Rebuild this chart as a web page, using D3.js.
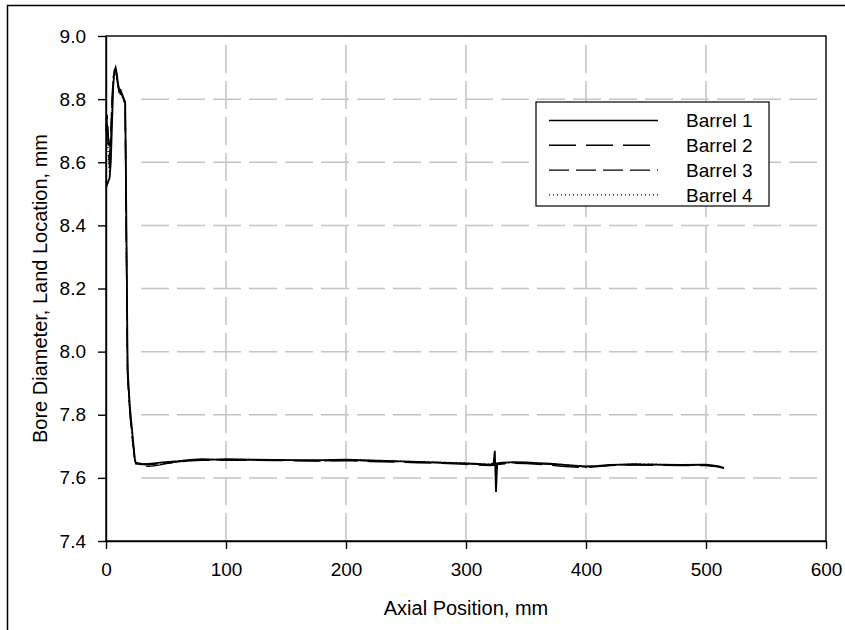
<!DOCTYPE html>
<html>
<head>
<meta charset="utf-8">
<script src="https://cdn.jsdelivr.net/npm/d3@7"></script>
<style>
  html, body { margin: 0; padding: 0; background: #fff; }
  svg { display: block; font-family: "Liberation Sans", Arial, sans-serif; }
</style>
</head>
<body>
<svg id="chart" width="845" height="630"></svg>
<script>
// ---------------- DATA ----------------
const axialPosition = [0,1,2,3,4,5,6,7,8,9,10,11,12,13,14,15,16,17,18,19,20,21,22,23,24,25,
  30,35,40,45,50,60,70,80,90,100,120,140,160,180,200,220,240,260,280,300,
  310,320,323,324,325,326,330,340,350,360,370,380,390,400,410,420,440,460,480,500,510,515];

const barrel1 = [8.54,8.53,8.54,8.55,8.60,8.72,8.84,8.89,8.90,8.88,8.85,8.83,8.83,8.82,8.81,8.80,8.79,8.40,7.95,7.88,7.82,7.78,7.74,7.70,7.66,7.645,
  7.643,7.644,7.646,7.648,7.650,7.653,7.657,7.659,7.658,7.659,
  7.658,7.657,7.656,7.656,7.658,7.655,7.653,7.651,7.648,7.646,
  7.644,7.642,7.646,7.686,7.555,7.646,7.648,
  7.650,7.649,7.647,7.645,7.642,7.639,7.636,7.638,7.641,
  7.643,7.642,7.641,7.642,7.637,7.632];

const barrel2 = [8.74,8.72,8.64,8.58,8.66,8.78,8.86,8.88,8.89,8.87,8.84,8.82,8.82,8.81,8.80,8.79,8.78,8.30,7.92,7.86,7.80,7.76,7.72,7.69,7.655,7.645,
  7.640,7.637,7.638,7.641,7.645,7.650,7.654,7.656,7.656,7.656,
  7.656,7.655,7.654,7.653,7.655,7.652,7.650,7.648,7.646,7.643,
  7.641,7.639,7.640,7.641,7.641,7.642,7.644,
  7.646,7.645,7.643,7.640,7.637,7.634,7.633,7.636,7.639,
  7.641,7.640,7.639,7.639,7.635,7.630];

const barrel3 = [8.70,8.75,8.68,8.62,8.70,8.80,8.87,8.885,8.895,8.875,8.845,8.825,8.82,8.815,8.805,8.795,8.785,8.35,7.93,7.87,7.81,7.77,7.73,7.695,7.66,7.648,
  7.645,7.643,7.642,7.644,7.647,7.651,7.655,7.657,7.657,7.657,
  7.657,7.656,7.655,7.654,7.656,7.654,7.652,7.650,7.648,7.645,
  7.643,7.641,7.643,7.644,7.644,7.645,7.646,
  7.648,7.647,7.645,7.643,7.641,7.638,7.635,7.637,7.640,
  7.643,7.642,7.640,7.641,7.636,7.631];

const barrel4 = [8.60,8.70,8.62,8.56,8.64,8.76,8.85,8.88,8.89,8.87,8.84,8.82,8.815,8.81,8.80,8.79,8.78,8.32,7.92,7.86,7.80,7.76,7.72,7.69,7.655,7.646,
  7.642,7.640,7.641,7.643,7.646,7.652,7.656,7.658,7.658,7.658,
  7.658,7.657,7.656,7.655,7.657,7.655,7.653,7.651,7.649,7.647,
  7.645,7.643,7.644,7.645,7.645,7.646,7.647,
  7.649,7.648,7.646,7.644,7.642,7.639,7.636,7.638,7.641,
  7.644,7.643,7.641,7.642,7.637,7.632];

const seriesNames = ["Barrel 1", "Barrel 2", "Barrel 3", "Barrel 4"];
const xTicks = [0, 100, 200, 300, 400, 500, 600];
const yTicks = [7.4, 7.6, 7.8, 8.0, 8.2, 8.4, 8.6, 8.8, 9.0];
const xTitle = "Axial Position, mm";
const yTitle = "Bore Diameter, Land Location, mm";

// ---------------- LAYOUT / STYLE ----------------
const dashes = [null, "27,10", "20,7", "1,3"];
const svg = d3.select("#chart");
const plot = { left: 106, right: 826, top: 36, bottom: 541 };

const x = d3.scaleLinear().domain([0, 600]).range([plot.left, plot.right]);
const y = d3.scaleLinear().domain([7.4, 9.0]).range([plot.bottom, plot.top]);

// outer frame
svg.append("rect").attr("x", 7.5).attr("y", 5.5).attr("width", 900).attr("height", 700)
  .attr("fill", "none").attr("stroke", "#000").attr("stroke-width", 1.5);

// grid
const grid = svg.append("g");
grid.selectAll("line.h").data(yTicks.slice(1, -1)).enter().append("line")
  .attr("x1", x(0) + 35).attr("x2", x(600))
  .attr("y1", d => y(d)).attr("y2", d => y(d))
  .attr("stroke", "#c4c4c4").attr("stroke-width", 1.5).attr("stroke-dasharray", "28,8");
grid.selectAll("line.v").data(xTicks.slice(1, -1)).enter().append("line")
  .attr("x1", d => x(d)).attr("x2", d => x(d))
  .attr("y1", y(7.4)).attr("y2", y(9.0))
  .attr("stroke", "#c4c4c4").attr("stroke-width", 1.5).attr("stroke-dasharray", "28,8");

// series
const allSeries = [barrel1, barrel2, barrel3, barrel4];
const line = d3.line().x((d, i) => x(axialPosition[i])).y(d => y(d));
const lines = svg.append("g");
allSeries.forEach((vals, k) => {
  lines.append("path").datum(vals)
    .attr("d", line)
    .attr("fill", "none")
    .attr("stroke", "#000")
    .attr("stroke-width", k === 0 ? 1.8 : 1.4)
    .attr("stroke-dasharray", dashes[k]);
});

// plot frame
svg.append("rect").attr("x", plot.left).attr("y", plot.top)
  .attr("width", plot.right - plot.left).attr("height", plot.bottom - plot.top)
  .attr("fill", "none").attr("stroke", "#000").attr("stroke-width", 1.4);

// axes
const xAxis = d3.axisBottom(x).tickValues(xTicks).tickFormat(d3.format("d"))
  .tickSizeInner(8).tickSizeOuter(0).tickPadding(14);
const yAxis = d3.axisLeft(y).tickValues(yTicks).tickFormat(d3.format(".1f"))
  .tickSizeInner(8).tickSizeOuter(0).tickPadding(12);

const gx = svg.append("g").attr("transform", `translate(0,${plot.bottom})`).call(xAxis);
const gy = svg.append("g").attr("transform", `translate(${plot.left},0)`).call(yAxis);
[gx, gy].forEach(g => {
  g.select(".domain").attr("stroke", "#000").attr("stroke-width", 1.4);
  g.selectAll(".tick line").attr("stroke", "#000").attr("stroke-width", 1.4);
  g.selectAll(".tick text").attr("fill", "#000").style("font-size", "19px")
    .style("font-family", "'Liberation Sans', Arial, sans-serif");
});

// axis titles
svg.append("text").attr("x", (plot.left + plot.right) / 2).attr("y", 615)
  .attr("text-anchor", "middle").style("font-size", "20px").text(xTitle);
svg.append("text")
  .attr("transform", `translate(47,${(plot.top + plot.bottom) / 2}) rotate(-90)`)
  .attr("text-anchor", "middle").style("font-size", "20px").text(yTitle);

// legend
const legend = svg.append("g");
legend.append("rect").attr("x", 536).attr("y", 102).attr("width", 233).attr("height", 104)
  .attr("fill", "#fff").attr("stroke", "#000").attr("stroke-width", 1.2);
seriesNames.forEach((name, k) => {
  const ly = 120.5 + k * 24.8;
  legend.append("line").attr("x1", 549).attr("x2", 658).attr("y1", ly).attr("y2", ly)
    .attr("stroke", "#000").attr("stroke-width", k === 0 ? 1.6 : 1.4)
    .attr("stroke-dasharray", dashes[k]);
  legend.append("text").attr("x", 686).attr("y", ly).attr("dy", "0.36em")
    .style("font-size", "19px").text(name);
});
</script>
</body>
</html>
